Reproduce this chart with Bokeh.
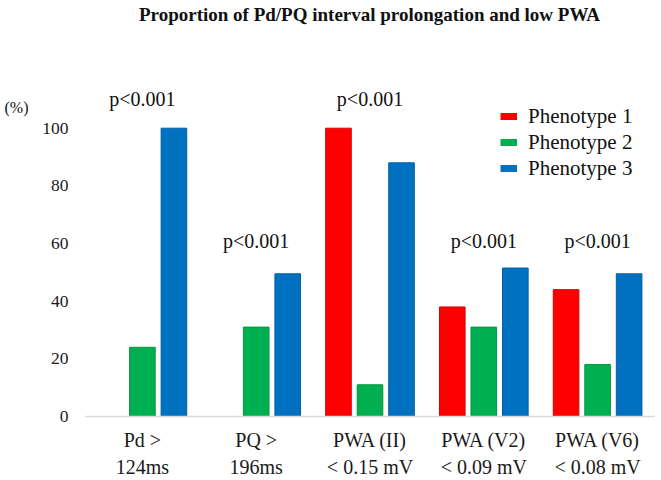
import numpy as np
from bokeh.plotting import figure
from bokeh.models import (ColumnDataSource, FactorRange, Legend, LegendItem, Label,
                          FixedTicker, Range1d, CategoricalAxis, LinearAxis)
from bokeh.transform import dodge
from bokeh.core.properties import value
from bokeh.embed import file_html
from bokeh.resources import INLINE

# ---------------- data ----------------
categories = ["Pd > 124ms", "PQ > 196ms", "PWA (II) < 0.15 mV",
              "PWA (V2) < 0.09 mV", "PWA (V6) < 0.08 mV"]
label_line1 = ["Pd >", "PQ >", "PWA (II)", "PWA (V2)", "PWA (V6)"]
label_line2 = ["124ms", "196ms", "< 0.15 mV", "< 0.09 mV", "< 0.08 mV"]
phenotype1 = [np.nan, np.nan, 100, 38, 44]
phenotype2 = [24, 31, 11, 31, 18]
phenotype3 = [100, 49.5, 88, 51.5, 49.5]
p_values = ["p<0.001", "p<0.001", "p<0.001", "p<0.001", "p<0.001"]
p_label_y = [110, 61, 110, 61, 61]
y_ticks = [0, 20, 40, 60, 80, 100]
series_names = ["Phenotype 1", "Phenotype 2", "Phenotype 3"]
series_colors = ["#FF0000", "#00B050", "#0070C0"]
series_edges = ["#D80000", "#009640", "#005FA6"]
title_text = "Proportion of Pd/PQ interval prolongation and low PWA"
unit_text = "(%)"
unit_y = 107.3

SERIF = "Liberation Serif"

src = ColumnDataSource(dict(cat=categories, p1=phenotype1, p2=phenotype2,
                            p3=phenotype3, pv=p_values, pvy=p_label_y))

frame_left = 85
frame_bottom = 417
y_end = 100 * frame_bottom / 289.0

p = figure(width=661, height=480, output_backend="svg", toolbar_location=None,
           title=None,
           x_range=FactorRange(factors=categories, range_padding=0),
           y_range=Range1d(0, y_end),
           min_border_left=frame_left, min_border_right=7, min_border_bottom=63,
           min_border_top=0)
p.extra_x_ranges = {"line1": FactorRange(factors=label_line1, range_padding=0),
                    "line2": FactorRange(factors=label_line2, range_padding=0)}

offsets = [-0.277, 0.0, 0.277]
cols = ["p1", "p2", "p3"]
for col, off, c, e in zip(cols, offsets, series_colors, series_edges):
    p.vbar(x=dodge("cat", off, range=p.x_range), top=col, bottom=0, width=0.225,
           source=src, fill_color=c, line_color=e, line_width=1)

p.text(x="cat", y="pvy", text="pv", source=src, text_align="center",
       text_baseline="middle", text_font=value(SERIF), text_font_size="20px",
       text_color="#111111")

# legend swatches (proxy lines with no visible points)
items = []
for name, c in zip(series_names, series_colors):
    r = p.line(x=[np.nan], y=[np.nan], line_color=c, line_width=7)
    items.append(LegendItem(label=name, renderers=[r]))
legend = Legend(items=items, location=(415, 235), orientation="vertical",
                glyph_width=17, glyph_height=26, label_height=26, spacing=0,
                padding=0, margin=0, label_standoff=11,
                label_text_font=SERIF, label_text_font_size="21px",
                label_text_color="#111111",
                border_line_color=None, background_fill_alpha=0)
p.add_layout(legend, "center")

# chart title (screen units relative to the frame)
p.add_layout(Label(x=369 - frame_left, y=frame_bottom - 15, x_units="screen",
                   y_units="screen", text=title_text, text_align="center",
                   text_baseline="middle", text_font=SERIF, text_font_size="19px",
                   text_font_style="bold", text_color="#111111"))

# axes
p.yaxis.ticker = FixedTicker(ticks=y_ticks)
p.yaxis.axis_line_color = None
p.yaxis.major_tick_line_color = None
p.yaxis.minor_tick_line_color = None
p.yaxis.major_tick_out = 0
p.yaxis.major_label_standoff = 17
p.yaxis.major_label_text_font = SERIF
p.yaxis.major_label_text_font_size = "17.5px"
p.yaxis.major_label_text_color = "#1a1a1a"

unit_axis = LinearAxis(ticker=FixedTicker(ticks=[unit_y]),
                       major_label_overrides={unit_y: unit_text},
                       axis_line_color=None, major_tick_line_color=None,
                       minor_tick_line_color=None, major_tick_out=0,
                       major_label_standoff=11, major_label_text_font=SERIF,
                       major_label_text_font_size="16px",
                       major_label_text_color="#111111")
p.add_layout(unit_axis, "left")

ax1 = p.xaxis[0]
ax1.x_range_name = "line1"
ax1.axis_line_color = "#D9D9D9"
ax1.axis_line_width = 1.5
ax1.major_tick_line_color = None
ax1.minor_tick_line_color = None
ax1.major_tick_out = 0
ax1.major_label_standoff = 12
ax1.major_label_text_font = SERIF
ax1.major_label_text_font_size = "20px"
ax1.major_label_text_color = "#1a1a1a"

ax2 = CategoricalAxis(x_range_name="line2",
                      axis_line_color=None, major_tick_line_color=None,
                      minor_tick_line_color=None, major_tick_out=0,
                      major_label_standoff=2, major_label_text_font=SERIF,
                      major_label_text_font_size="20px",
                      major_label_text_color="#1a1a1a")
p.add_layout(ax2, "below")

p.xgrid.grid_line_color = None
p.ygrid.grid_line_color = None
p.outline_line_color = None

open("out.html", "w").write(file_html(p, INLINE))
